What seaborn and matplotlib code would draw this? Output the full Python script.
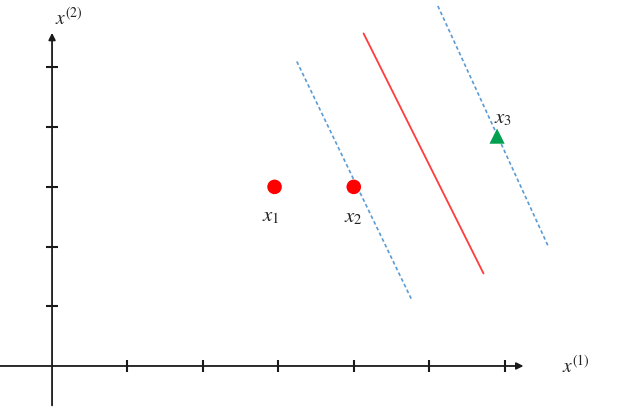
import numpy as np
import pandas as pd
import matplotlib
matplotlib.use("Agg")
import matplotlib.pyplot as plt
import seaborn as sns

# points (data units, ticks every 1)
pt_names = ["$x_1$", "$x_2$", "$x_3$"]
pt_x = [2.95, 4.0, 5.9]
pt_y = [3.0, 3.0, 3.85]
pt_cls = ["neg", "neg", "pos"]

# lines: hyperplane (solid) and margins (dashed)
line_names = ["margin_left", "hyperplane", "margin_right"]
line_x0 = [3.245, 4.13, 5.115]
line_y0 = [5.10, 5.57, 6.03]
line_x1 = [4.77, 5.72, 6.58]
line_y1 = [1.105, 1.55, 2.00]

xticks = [1, 2, 3, 4, 5, 6]
yticks = [1, 2, 3, 4, 5]

sns.set_theme(style="white")
plt.rcParams["mathtext.fontset"] = "stix"

fig = plt.figure(figsize=(6.17, 4.07), dpi=100)
ax = fig.add_axes([0, 0, 1, 1])
ax.set_xlim(-0.69, 7.49)
ax.set_ylim(-0.687, 6.13)
ax.axis("off")

axc = "#1a1a1a"
# axes with arrows
ax.annotate("", xy=(6.25, 0), xytext=(-0.69, 0),
            arrowprops=dict(arrowstyle="-|>", color=axc, lw=1.3, mutation_scale=10,
                            shrinkA=0, shrinkB=0))
ax.annotate("", xy=(0, 5.58), xytext=(0, -0.66),
            arrowprops=dict(arrowstyle="-|>", color=axc, lw=1.3, mutation_scale=10,
                            shrinkA=0, shrinkB=0))
ax.plot(xticks, [0] * len(xticks), ls="none", marker="|", ms=9, mew=1.5, color=axc)
ax.plot([0] * len(yticks), yticks, ls="none", marker="_", ms=8.5, mew=1.5, color=axc)

ax.text(6.95, 0.0, "$x^{(1)}$", fontsize=14, ha="center", va="center", color="#222")
ax.text(0.22, 5.84, "$x^{(2)}$", fontsize=14, ha="center", va="center", color="#222")

# lines
lines = pd.DataFrame({
    "name": np.repeat(line_names, 2),
    "x": [v for a, b in zip(line_x0, line_x1) for v in (a, b)],
    "y": [v for a, b in zip(line_y0, line_y1) for v in (a, b)],
})
for name in line_names:
    d = lines[lines["name"] == name]
    if name == "hyperplane":
        sns.lineplot(data=d, x="x", y="y", sort=False, ax=ax, color="#ff3b3b", lw=1.3)
    else:
        sns.lineplot(data=d, x="x", y="y", sort=False, ax=ax, color="#5b9bd5", lw=1.2,
                     dashes=False, linestyle=(0, (2.2, 1.6)))

# points
pts = pd.DataFrame({"name": pt_names, "x": pt_x, "y": pt_y, "cls": pt_cls})
sns.scatterplot(data=pts[pts["cls"] == "neg"], x="x", y="y", ax=ax, s=110,
                color="#ff0000", edgecolor="none", marker="o", zorder=5)
sns.scatterplot(data=pts[pts["cls"] == "pos"], x="x", y="y", ax=ax, s=120,
                color="#00a050", edgecolor="none", marker="^", zorder=5)

offsets = [(-0.05, -0.48), (0.0, -0.5), (0.08, 0.3)]
for (n, x, y), (dx, dy) in zip(zip(pt_names, pt_x, pt_y), offsets):
    ax.text(x + dx, y + dy, n, fontsize=15, ha="center", va="center", color="#222")

ax.set_xlabel("")
ax.set_ylabel("")
fig.savefig("out.png", dpi=100)
